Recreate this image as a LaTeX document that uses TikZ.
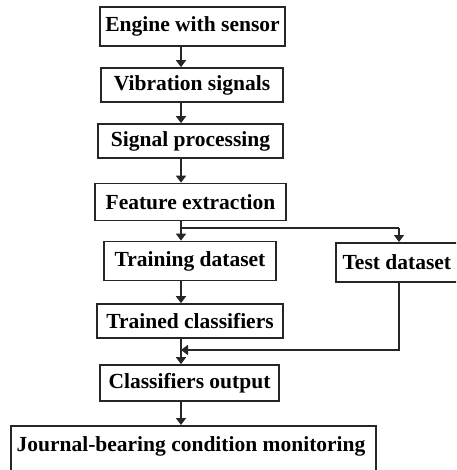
\documentclass[tikz,border=0pt]{standalone}
\usepackage{fontspec}
\setmainfont{Liberation Serif}
\usetikzlibrary{arrows.meta}
\begin{document}
\begin{tikzpicture}[x=1pt,y=-1pt,
  lbl/.style={font=\fontsize{21.5}{24}\selectfont\bfseries, text=black},
  box/.style={lbl, draw=black!85, line width=1.7pt, rectangle, inner sep=0pt},
  link/.style={draw=black!85, line width=1.7pt, -{Triangle[width=10pt,length=7pt]}},
  wire/.style={draw=black!85, line width=1.7pt}]
\useasboundingbox (0,0) rectangle (456,470);
\clip (0,0) rectangle (456,470);
% process boxes
\node[box, minimum width=185pt, minimum height=39pt] (engine) at (192.5,26.5) {Engine with sensor};
\node[box, minimum width=182pt, minimum height=34pt] (vib) at (192,85) {Vibration signals};
\node[box, minimum width=185pt, minimum height=34pt] (proc) at (190.5,141) {Signal processing};
\node[box, minimum width=191pt, minimum height=37pt] (feat) at (190.5,202) {Feature extraction};
\node[box, minimum width=172pt, minimum height=39pt] (train) at (190,261) {Training dataset};
\node[box, minimum width=140pt, minimum height=39pt, anchor=north west] (test) at (335,242) {\hspace*{-18pt}Test dataset};
\node[box, minimum width=186pt, minimum height=34pt] (trained) at (190,321) {Trained classifiers};
\node[box, minimum width=179pt, minimum height=36pt] (out) at (189.5,383) {Classifiers output};
\node[box, minimum width=365pt, minimum height=56pt, anchor=north west] (journal) at (10,425) {};
\node[lbl] (jtext) at (191,446) {Journal-bearing condition monitoring};
% connector guide lines
\coordinate (axis) at (181,0);
\coordinate (taxis) at (399,0);
\coordinate (split) at (181,228);
\coordinate (merge) at (181,350);
% main chain
\draw[link] (engine.south -| axis) -- (vib.north -| axis);
\draw[link] (vib.south -| axis) -- (proc.north -| axis);
\draw[link] (proc.south -| axis) -- (feat.north -| axis);
\draw[link] (feat.south -| axis) -- (train.north -| axis);
\draw[wire] (split) -- (split -| taxis);
\draw[link] (split -| taxis) -- (test.north -| taxis);
\draw[link] (train.south -| axis) -- (trained.north -| axis);
\draw[link] (trained.south -| axis) -- (out.north -| axis);
\draw[link] (test.south -| taxis) -- (merge -| taxis) -- (merge);
\draw[link] (out.south -| axis) -- (journal.north -| axis);
\end{tikzpicture}
\end{document}
